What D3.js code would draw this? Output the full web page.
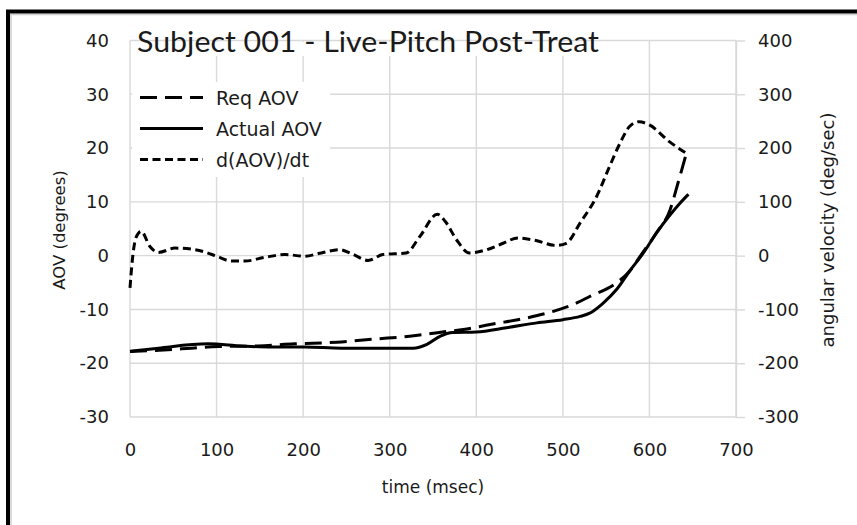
<!DOCTYPE html>
<html>
<head>
<meta charset="utf-8">
<script src="https://cdn.jsdelivr.net/npm/d3@7"></script>
<style>
  body { margin: 0; background: #fff; }
  svg { display: block; }
  text { font-family: "DejaVu Sans", Verdana, sans-serif; fill: #1a1a1a; }
</style>
</head>
<body>
<div id="chart"></div>
<script>
//
// Subject 001 - Live-Pitch Post-Treat
//

// Data
var reqTime = [0, 44, 71, 102, 148, 190, 239, 283, 323, 338, 366, 385, 416, 458, 489, 516, 531, 560, 577, 592, 608, 624, 633, 643];
var reqAOV  = [-17.8, -17.5, -17.2, -16.9, -16.8, -16.4, -16.1, -15.5, -15.0, -14.7, -14.1, -13.75, -12.8, -11.6, -10.35, -8.8, -7.6, -5.3, -2.9, 0.5, 4.2, 8.6, 13.5, 19.2];

var actTime = [0, 33, 90, 129, 164, 202, 244, 290, 327, 343, 358, 373, 400, 435, 470, 500, 520, 531, 546, 562, 577, 593, 608, 624, 635, 645];
var actAOV  = [-17.8, -17.2, -16.4, -16.8, -17.0, -17.0, -17.2, -17.2, -17.2, -16.5, -15.0, -14.3, -14.2, -13.4, -12.5, -11.9, -11.3, -10.7, -8.9, -6.3, -2.9, 0.5, 4.2, 7.6, 9.7, 11.4];

var rateTime = [0, 2, 7, 13, 23, 33, 52, 71, 86, 100, 117, 133, 156, 179, 202, 221, 242, 258, 275, 292, 319, 335, 355, 364, 377, 392, 412, 431, 448, 469, 492, 504, 520, 539, 554, 566, 577, 588, 600, 623, 643];
var rateAOV  = [-60, -20, 34, 45, 17, 6, 14, 12, 7, -1, -10, -10, -3, 2, -1, 5, 11, 2, -9, 2, 5, 36, 77, 64, 30, 5, 11, 23, 33, 28, 19, 23, 61, 110, 166, 209, 240, 249, 243, 212, 190];

var xTicks = [0, 100, 200, 300, 400, 500, 600, 700];
var leftTicks = [-30, -20, -10, 0, 10, 20, 30, 40];
var rightTicks = [-300, -200, -100, 0, 100, 200, 300, 400];

var seriesNames = ["Req AOV", "Actual AOV", "d(AOV)/dt"];

// Canvas
var W = 857, H = 525;
var svg = d3.select("#chart")
    .append("svg")
    .attr("width", W)
    .attr("height", H);

svg.append("rect").attr("width", W).attr("height", H).style("fill", "#fff");

// Scales: plot area from x 130 to 736, y 40.5 to 417
var x = d3.scaleLinear().domain([0, 700]).range([130, 736]);
var yL = d3.scaleLinear().domain([-30, 40]).range([417, 40.5]);
var yR = d3.scaleLinear().domain([-300, 400]).range([417, 40.5]);

var grid = "#d9d9d9";
var plain = function(d) { return String(d); };   // hyphen minus, like the original

// Grid lines
svg.append("g").selectAll("line")
    .data(leftTicks)
    .enter()
    .append("line")
    .attr("x1", x(0)).attr("x2", x(700))
    .attr("y1", function(d) { return yL(d); })
    .attr("y2", function(d) { return yL(d); })
    .style("stroke", grid).style("stroke-width", 1.4);

svg.append("g").selectAll("line")
    .data(xTicks)
    .enter()
    .append("line")
    .attr("x1", function(d) { return x(d); })
    .attr("x2", function(d) { return x(d); })
    .attr("y1", yL(40)).attr("y2", yL(-30))
    .style("stroke", grid).style("stroke-width", 1.4);

// X axis labels
var gx = svg.append("g")
    .attr("transform", "translate(0," + yL(-30) + ")")
    .call(d3.axisBottom(x).tickValues(xTicks).tickFormat(plain).tickSize(0).tickPadding(26));
gx.select(".domain").remove();
gx.selectAll("text").style("font-size", "18px").style("font-family", null).attr("fill", null);

// Left axis labels
var gl = svg.append("g")
    .attr("transform", "translate(" + x(0) + ",0)")
    .call(d3.axisLeft(yL).tickValues(leftTicks).tickFormat(plain).tickSize(0).tickPadding(21));
gl.select(".domain").remove();
gl.selectAll("text").style("font-size", "18px").style("font-family", null).attr("fill", null);

// Right axis with outside ticks
var gr = svg.append("g")
    .attr("transform", "translate(" + x(700) + ",0)")
    .call(d3.axisRight(yR).tickValues(rightTicks).tickFormat(plain).tickSizeInner(9).tickSizeOuter(0).tickPadding(13));
gr.select(".domain").style("stroke", grid).style("stroke-width", 1.4);
gr.selectAll(".tick line").style("stroke", grid).style("stroke-width", 1.4);
gr.selectAll("text").style("font-size", "18px").style("font-family", null).attr("fill", null);

// Title box (covers the vertical grid lines, not the top one)
svg.append("rect")
    .attr("x", 133).attr("y", 42)
    .attr("width", 472).attr("height", 14)
    .style("fill", "#fff");

svg.append("text")
    .attr("x", 137).attr("y", 52)
    .attr("textLength", 462)
    .attr("lengthAdjust", "spacingAndGlyphs")
    .style("font-family", "Lato, 'Open Sans', sans-serif")
    .style("font-size", "28px")
    .text("Subject 001 - Live-Pitch Post-Treat");

// Lines
var lineL = d3.line()
    .x(function(d) { return x(d[0]); })
    .y(function(d) { return yL(d[1]); })
    .curve(d3.curveMonotoneX);

var lineR = d3.line()
    .x(function(d) { return x(d[0]); })
    .y(function(d) { return yR(d[1]); })
    .curve(d3.curveMonotoneX);

var styles = [
    {dash: "17,8", w: 3},
    {dash: null, w: 3},
    {dash: "8,4.5", w: 3}
];

svg.append("path")
    .datum(d3.zip(reqTime, reqAOV))
    .attr("d", lineL)
    .style("fill", "none").style("stroke", "#000")
    .style("stroke-width", styles[0].w)
    .style("stroke-dasharray", styles[0].dash);

svg.append("path")
    .datum(d3.zip(actTime, actAOV))
    .attr("d", lineL)
    .style("fill", "none").style("stroke", "#000")
    .style("stroke-width", styles[1].w);

svg.append("path")
    .datum(d3.zip(rateTime, rateAOV))
    .attr("d", lineR)
    .style("fill", "none").style("stroke", "#000")
    .style("stroke-width", styles[2].w)
    .style("stroke-dasharray", styles[2].dash);

// Legend
svg.append("rect")
    .attr("x", 132).attr("y", 82)
    .attr("width", 198).attr("height", 95)
    .style("fill", "#fff");

var legendY = [97.5, 128.5, 159.5];
seriesNames.forEach(function(name, i) {
    svg.append("line")
        .attr("x1", 140).attr("x2", 203)
        .attr("y1", legendY[i]).attr("y2", legendY[i])
        .style("stroke", "#000")
        .style("stroke-width", styles[i].w)
        .style("stroke-dasharray", styles[i].dash);
    svg.append("text")
        .attr("x", 216).attr("y", legendY[i] + 7)
        .style("font-size", "19px")
        .text(name);
});

// Axis titles
svg.append("text")
    .attr("x", x(350)).attr("y", 493)
    .attr("text-anchor", "middle")
    .style("font-size", "17px")
    .text("time (msec)");

svg.append("text")
    .attr("transform", "translate(65,230) rotate(-90)")
    .attr("text-anchor", "middle")
    .style("font-size", "16.5px")
    .text("AOV (degrees)");

svg.append("text")
    .attr("transform", "translate(834,230) rotate(-90)")
    .attr("text-anchor", "middle")
    .style("font-size", "18px")
    .text("angular velocity (deg/sec)");

// Frame
svg.append("path")
    .attr("d", "M11,525 V14.5 H857")
    .style("fill", "none").style("stroke", "#d0d0d0").style("stroke-width", 1.5);
svg.append("path")
    .attr("d", "M8,525 V11.5 H857")
    .style("fill", "none").style("stroke", "#000").style("stroke-width", 4);
</script>
</body>
</html>
